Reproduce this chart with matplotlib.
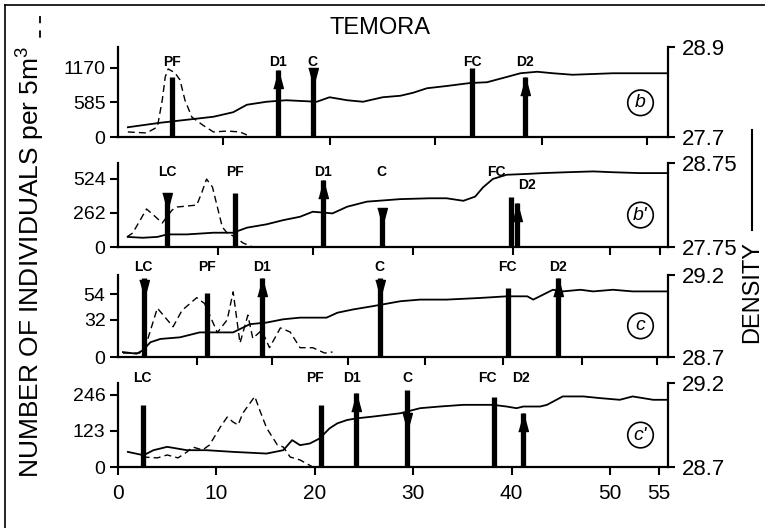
import matplotlib
matplotlib.use("Agg")
import matplotlib.pyplot as plt
from matplotlib.lines import Line2D
from matplotlib.transforms import offset_copy

plt.rcParams['font.family'] = ['Liberation Sans', 'DejaVu Sans']
plt.rcParams['mathtext.default'] = 'regular'

# ---- panel (b) ----
b_dens_x = [1.0, 4.3, 9.7, 11.7, 13.1, 15.1, 17.1, 20.2, 21.5, 23.3, 24.9, 26.9, 28.7, 30.0, 31.4,
            33.4, 35.8, 37.5, 39.5, 40.9, 42.6, 44.2, 46.2, 48.3, 50.3, 52.3, 55.8]
b_dens = [27.83, 27.89, 27.97, 28.03, 28.13, 28.17, 28.19, 28.17, 28.23, 28.19, 28.17, 28.23, 28.25,
          28.29, 28.35, 28.38, 28.42, 28.43, 28.50, 28.55, 28.57, 28.55, 28.53, 28.54, 28.55, 28.55, 28.55]
b_num_x = [1.0, 2.9, 4.0, 4.5, 4.8, 5.1, 5.8, 6.3, 6.8, 7.5, 8.6, 9.7, 11.1, 12.4, 13.1]
b_num = [85, 68, 169, 625, 1014, 1150, 1082, 963, 625, 338, 203, 85, 101, 85, 34]
b_ev = ['PF', 'D1', 'C', 'FC', 'D2']
b_ev_x = [5.5, 16.3, 19.8, 36.0, 41.4]
b_ev_top = [1010, 1130, 1165, 1165, 1010]
b_ev_head = [None, 1130, 1165, None, 1010]
b_ev_kind = ['bar', 'up', 'down', 'bar', 'up']
b_yticks = [0, 585, 1170]
b_dticks = ['27.7', '28.9']

# ---- panel (b') ----
bp_dens_x = [1.0, 2.5, 4.0, 5.0, 7.0, 9.7, 11.7, 13.1, 15.1, 16.8, 18.5, 19.8, 21.8, 23.3, 25.3, 28.7,
             31.7, 33.4, 35.1, 36.3, 37.1, 38.1, 39.5, 41.6, 43.2, 45.6, 48.3, 50.3, 53.0, 55.8]
bp_dens = [27.87, 27.86, 27.87, 27.90, 27.90, 27.92, 27.92, 27.98, 28.02, 28.07, 28.11, 28.17, 28.15,
           28.23, 28.29, 28.32, 28.33, 28.33, 28.30, 28.35, 28.46, 28.56, 28.61, 28.62, 28.63, 28.64,
           28.65, 28.64, 28.63, 28.63]
bp_num_x = [0.9, 1.5, 2.9, 3.6, 4.5, 5.5, 6.0, 8.0, 8.5, 9.0, 9.6, 10.1, 10.6, 11.1, 11.9, 12.7, 13.7]
bp_num = [77, 107, 291, 245, 184, 283, 306, 321, 413, 520, 459, 306, 153, 107, 77, 31, 0]
bp_ev = ['LC', 'PF', 'D1', 'C', 'FC', 'D2']
bp_ev_x = [5.0, 11.9, 20.8, 26.8, 39.9, 40.6]
bp_ev_top = [413, 413, 513, 298, 383, 337]
bp_ev_head = [413, None, 513, 298, None, 337]
bp_ev_kind = ['down', 'bar', 'up', 'down', 'bar', 'up']
bp_yticks = [0, 262, 524]
bp_dticks = ['27.75', '28.75']

# ---- panel (c) ----
c_dens_x = [0.5, 1.9, 2.5, 3.3, 4.3, 6.3, 8.3, 10.1, 11.7, 13.4, 15.1, 16.8, 18.5, 21.2, 22.3, 23.9,
            25.9, 28.7, 30.7, 33.4, 36.8, 39.5, 41.6, 42.2, 43.2, 44.2, 45.2, 47.0, 48.3, 50.3, 52.3, 55.8]
c_dens = [28.73, 28.72, 28.74, 28.79, 28.81, 28.82, 28.85, 28.85, 28.85, 28.90, 28.91, 28.93, 28.94,
          28.94, 28.97, 28.99, 29.01, 29.04, 29.05, 29.05, 29.06, 29.07, 29.07, 29.05, 29.08, 29.11,
          29.10, 29.11, 29.10, 29.11, 29.10, 29.10]
c_num_x = [0.5, 2.2, 2.9, 4.0, 5.6, 6.5, 8.0, 8.8, 10.1, 11.1, 11.7, 12.4, 13.2, 13.7, 14.6, 15.4,
           16.5, 17.5, 18.5, 19.8, 21.0, 21.8]
c_num = [3.4, 3.4, 12, 42, 26, 40, 51, 46, 21, 32, 56, 12, 36, 16, 23, 8, 25, 21.5, 8, 8, 3.4, 4.3]
c_ev = ['LC', 'PF', 'D1', 'C', 'FC', 'D2']
c_ev_x = [2.6, 9.0, 14.6, 26.6, 39.6, 44.7]
c_ev_top = [68, 55, 68, 68, 59, 68]
c_ev_head = [66, None, 68, 66, None, 68]
c_ev_kind = ['down', 'bar', 'up', 'down', 'bar', 'up']
c_yticks = [0, 32, 54]
c_dticks = ['28.7', '29.2']

# ---- panel (c') ----
cp_dens_x = [1.0, 2.6, 3.6, 5.0, 7.0, 9.0, 11.7, 15.1, 16.8, 17.7, 18.5, 19.5, 20.5, 21.5, 22.3, 23.3,
             24.3, 25.9, 28.7, 30.7, 32.7, 35.1, 38.1, 39.5, 40.5, 41.2, 42.9, 43.6, 45.2, 47.3, 49.0,
             51.0, 52.3, 54.4, 56.0]
cp_dens = [28.79, 28.77, 28.80, 28.82, 28.80, 28.80, 28.79, 28.78, 28.80, 28.86, 28.83, 28.84, 28.87,
           28.93, 28.96, 28.98, 28.99, 29.00, 29.02, 29.05, 29.06, 29.07, 29.07, 29.06, 29.05, 29.06,
           29.06, 29.07, 29.12, 29.12, 29.11, 29.10, 29.12, 29.10, 29.10]
cp_num_x = [2.5, 4.0, 5.0, 6.1, 7.0, 7.6, 8.6, 9.3, 10.4, 11.1, 11.7, 12.2, 12.7, 13.9, 14.4, 15.1,
            16.2, 16.8, 17.5, 18.5, 19.8]
cp_num = [34, 31, 41, 31, 51, 68, 58, 75, 136, 170, 153, 143, 184, 240, 194, 133, 75, 68, 34, 24, 0]
cp_ev = ['LC', 'PF', 'D1', 'C', 'FC', 'D2']
cp_ev_x = [2.5, 20.6, 24.2, 29.4, 38.2, 41.2]
cp_ev_top = [211, 211, 252, 262, 238, 184]
cp_ev_head = [None, None, 252, 184, None, 184]
cp_ev_kind = ['bar', 'bar', 'up', 'down', 'bar', 'up']
cp_yticks = [0, 123, 246]
cp_dticks = ['28.7', '29.2']

x_ticks = [0, 10, 20, 30, 40, 50, 55]

fig = plt.figure(figsize=(7.65, 5.28), dpi=100)
W, H = 765.0, 528.0

up_arrow = [(-0.27, -0.5), (0.27, -0.5), (0.0, 0.5)]
down_arrow = [(-0.27, 0.5), (0.27, 0.5), (0.0, -0.5)]


def draw_panel(top_px, bot_px, ymax, dlim, num_x, num, dens_x, dens, ev, ev_x, ev_top,
               ev_head, ev_kind, yticks, dticks, xt, tag, lab_y, lab_x=None):
    ax = fig.add_axes([118 / W, 1 - bot_px / H, 550 / W, (bot_px - top_px) / H])
    ax.set_xlim(0, 55.9)
    ax.set_ylim(0, ymax)
    ax.plot(num_x, num, color='k', lw=1.0, dashes=(5, 3))
    for i, (x, top, kind, head) in enumerate(zip(ev_x, ev_top, ev_kind, ev_head)):
        ax.plot([x, x], [0, top], color='k', lw=3.8, solid_capstyle='butt')
        tr = offset_copy(ax.transData, fig=fig, y=-6.5, units='points')
        if kind == 'up':
            ax.plot(x, head, marker=up_arrow, ms=13, color='k', transform=tr, clip_on=False)
        elif kind == 'down':
            ax.plot(x, head, marker=down_arrow, ms=13, color='k', transform=tr, clip_on=False)
        lx = ev_x[i] if lab_x is None else lab_x[i]
        ly = lab_y[i] if isinstance(lab_y, list) else lab_y
        ax.text(lx, ly, ev[i], ha='center', va='center', fontsize=10, fontweight='bold')
    for s in ['top', 'right']:
        ax.spines[s].set_visible(False)
    for s in ['left', 'bottom']:
        ax.spines[s].set_linewidth(1.6)
    ax.set_yticks(yticks)
    ax.set_yticklabels([str(t) for t in yticks], fontsize=14)
    ax.set_xticks(xt)
    ax.tick_params(axis='both', direction='out', length=6, width=1.5, pad=3)
    ax.tick_params(axis='x', labelbottom=False)

    ax2 = ax.twinx()
    ax2.set_ylim(*dlim)
    ax2.set_xlim(0, 55.9)
    ax2.plot(dens_x, dens, color='k', lw=1.3)
    for s in ['top', 'left', 'bottom']:
        ax2.spines[s].set_visible(False)
    ax2.spines['right'].set_linewidth(1.6)
    ax2.set_yticks(dlim)
    ax2.set_yticklabels(dticks, fontsize=16)
    ax2.tick_params(axis='y', direction='out', length=5, width=1.5, pad=5)
    ax2.text(0.95, 0.38, tag, transform=ax2.transAxes, ha='center', va='center',
             fontsize=14, style='italic',
             bbox=dict(boxstyle='circle,pad=0.22', fc='none', ec='k', lw=1.2))
    return ax


draw_panel(47, 137, 1520, (27.7, 28.9), b_num_x, b_num, b_dens_x, b_dens, b_ev, b_ev_x,
           b_ev_top, b_ev_head, b_ev_kind, b_yticks, b_dticks,
           [10.7, 21.5, 32.2, 43.1, 53.8], 'b', 1268)
draw_panel(163, 247, 643, (27.75, 28.75), bp_num_x, bp_num, bp_dens_x, bp_dens, bp_ev, bp_ev_x,
           bp_ev_top, bp_ev_head, bp_ev_kind, bp_yticks, bp_dticks,
           [10.2, 19.8, 30.0, 40.1, 50.0, 55.1], "b'", [574, 574, 574, 574, 574, 474],
           lab_x=[5.0, 11.9, 20.8, 26.8, 38.5, 41.6])
draw_panel(275, 357, 70.5, (28.7, 29.2), c_num_x, c_num, c_dens_x, c_dens, c_ev, c_ev_x,
           c_ev_top, c_ev_head, c_ev_kind, c_yticks, c_dticks,
           [8.0, 15.7, 23.4, 31.2, 39.1, 47.2, 54.8], 'c', 77.5)
ax4 = draw_panel(383, 467, 286, (28.7, 29.2), cp_num_x, cp_num, cp_dens_x, cp_dens, cp_ev, cp_ev_x,
                 cp_ev_top, cp_ev_head, cp_ev_kind, cp_yticks, cp_dticks,
                 x_ticks, "c'", 303,
                 lab_x=[2.5, 20.0, 23.8, 29.4, 37.5, 41.0])
ax4.tick_params(axis='x', labelbottom=True, labelsize=15, pad=6)
ax4.set_xticklabels([str(t) for t in x_ticks])

fig.text(380 / W, 1 - 28 / H, 'TEMORA', ha='center', va='center', fontsize=17)
fig.text(31 / W, 1 - 262 / H, 'NUMBER OF INDIVIDUALS per 5m$^3$', rotation=90,
         ha='center', va='center', fontsize=19)
fig.add_artist(Line2D([40 / W, 40 / W], [1 - 16 / H, 1 - 40 / H], color='k', lw=1.3,
                      dashes=(4, 4)))
fig.text(752 / W, 1 - 292 / H, 'DENSITY', rotation=90, ha='center', va='center', fontsize=17)
fig.add_artist(Line2D([752 / W, 752 / W], [1 - 130 / H, 1 - 230 / H], color='k', lw=1.5))

# scan frame
fig.add_artist(Line2D([5 / W, 1], [1 - 5 / H, 1 - 5 / H], color='k', lw=1.2))
fig.add_artist(Line2D([5 / W, 5 / W], [1 - 5 / H, 0], color='k', lw=1.2))

fig.savefig('out.png', dpi=100)
